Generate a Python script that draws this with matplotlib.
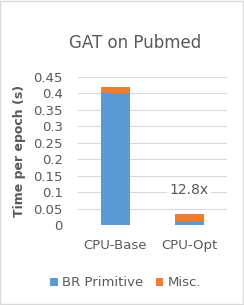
import numpy as np
import matplotlib.pyplot as plt
from matplotlib.patches import Rectangle

categories = ['CPU-Base', 'CPU-Opt']
br_primitive = [0.40, 0.012]
misc = [0.02, 0.021]
speedup_label = '12.8x'
yticks = [0, 0.05, 0.1, 0.15, 0.2, 0.25, 0.3, 0.35, 0.4, 0.45]
ytick_labels = ['0', '0.05', '0.1', '0.15', '0.2', '0.25', '0.3', '0.35', '0.4', '0.45']

grey = '#595959'
plt.rcParams['font.family'] = ['DejaVu Sans']

fig = plt.figure(figsize=(2.44, 3.05), dpi=100, facecolor='w')
ax = fig.add_axes([78/244, 1-225/305, 149/244, 148/305])

x = np.arange(len(categories))
ax.bar(x, br_primitive, width=0.39, color='#5B9BD5', label='BR Primitive', zorder=3)
ax.bar(x, misc, width=0.39, bottom=br_primitive, color='#ED7D31', label='Misc.', zorder=3)

ax.set_xlim(-0.5, 1.5)
ax.set_ylim(0, 0.45)
ax.set_yticks(yticks)
ax.set_yticklabels(ytick_labels)
ax.set_xticks(x)
ax.set_xticklabels(categories)
ax.tick_params(length=0, labelsize=9.5, colors=grey)
ax.tick_params(axis='x', pad=10)
ax.tick_params(axis='y', pad=11)
ax.yaxis.grid(True, color='#d9d9d9', linewidth=0.8, zorder=0)
for s in ax.spines.values():
    s.set_visible(False)
ax.set_ylabel('Time per epoch (s)', fontsize=9, color=grey, fontweight='bold', labelpad=5)

ax.text(0.99, 0.105, speedup_label, ha='center', va='center', fontsize=10, color=grey,
        bbox=dict(facecolor='white', edgecolor='none', pad=2), zorder=4)

fig.suptitle('GAT on Pubmed', x=0.555, y=0.89, fontsize=12, color=grey)

fig.legend(loc='center', bbox_to_anchor=(0.515, 1-283/305), ncol=2, frameon=False,
           fontsize=9.5, labelcolor=grey, handlelength=0.55, handleheight=0.55,
           handletextpad=0.3, columnspacing=1.0)

fig.patches.append(Rectangle((0.002, 0.002), 0.994, 0.994, transform=fig.transFigure,
                             fill=False, edgecolor='#d9d9d9', linewidth=1))

fig.savefig('out.png', dpi=100)
